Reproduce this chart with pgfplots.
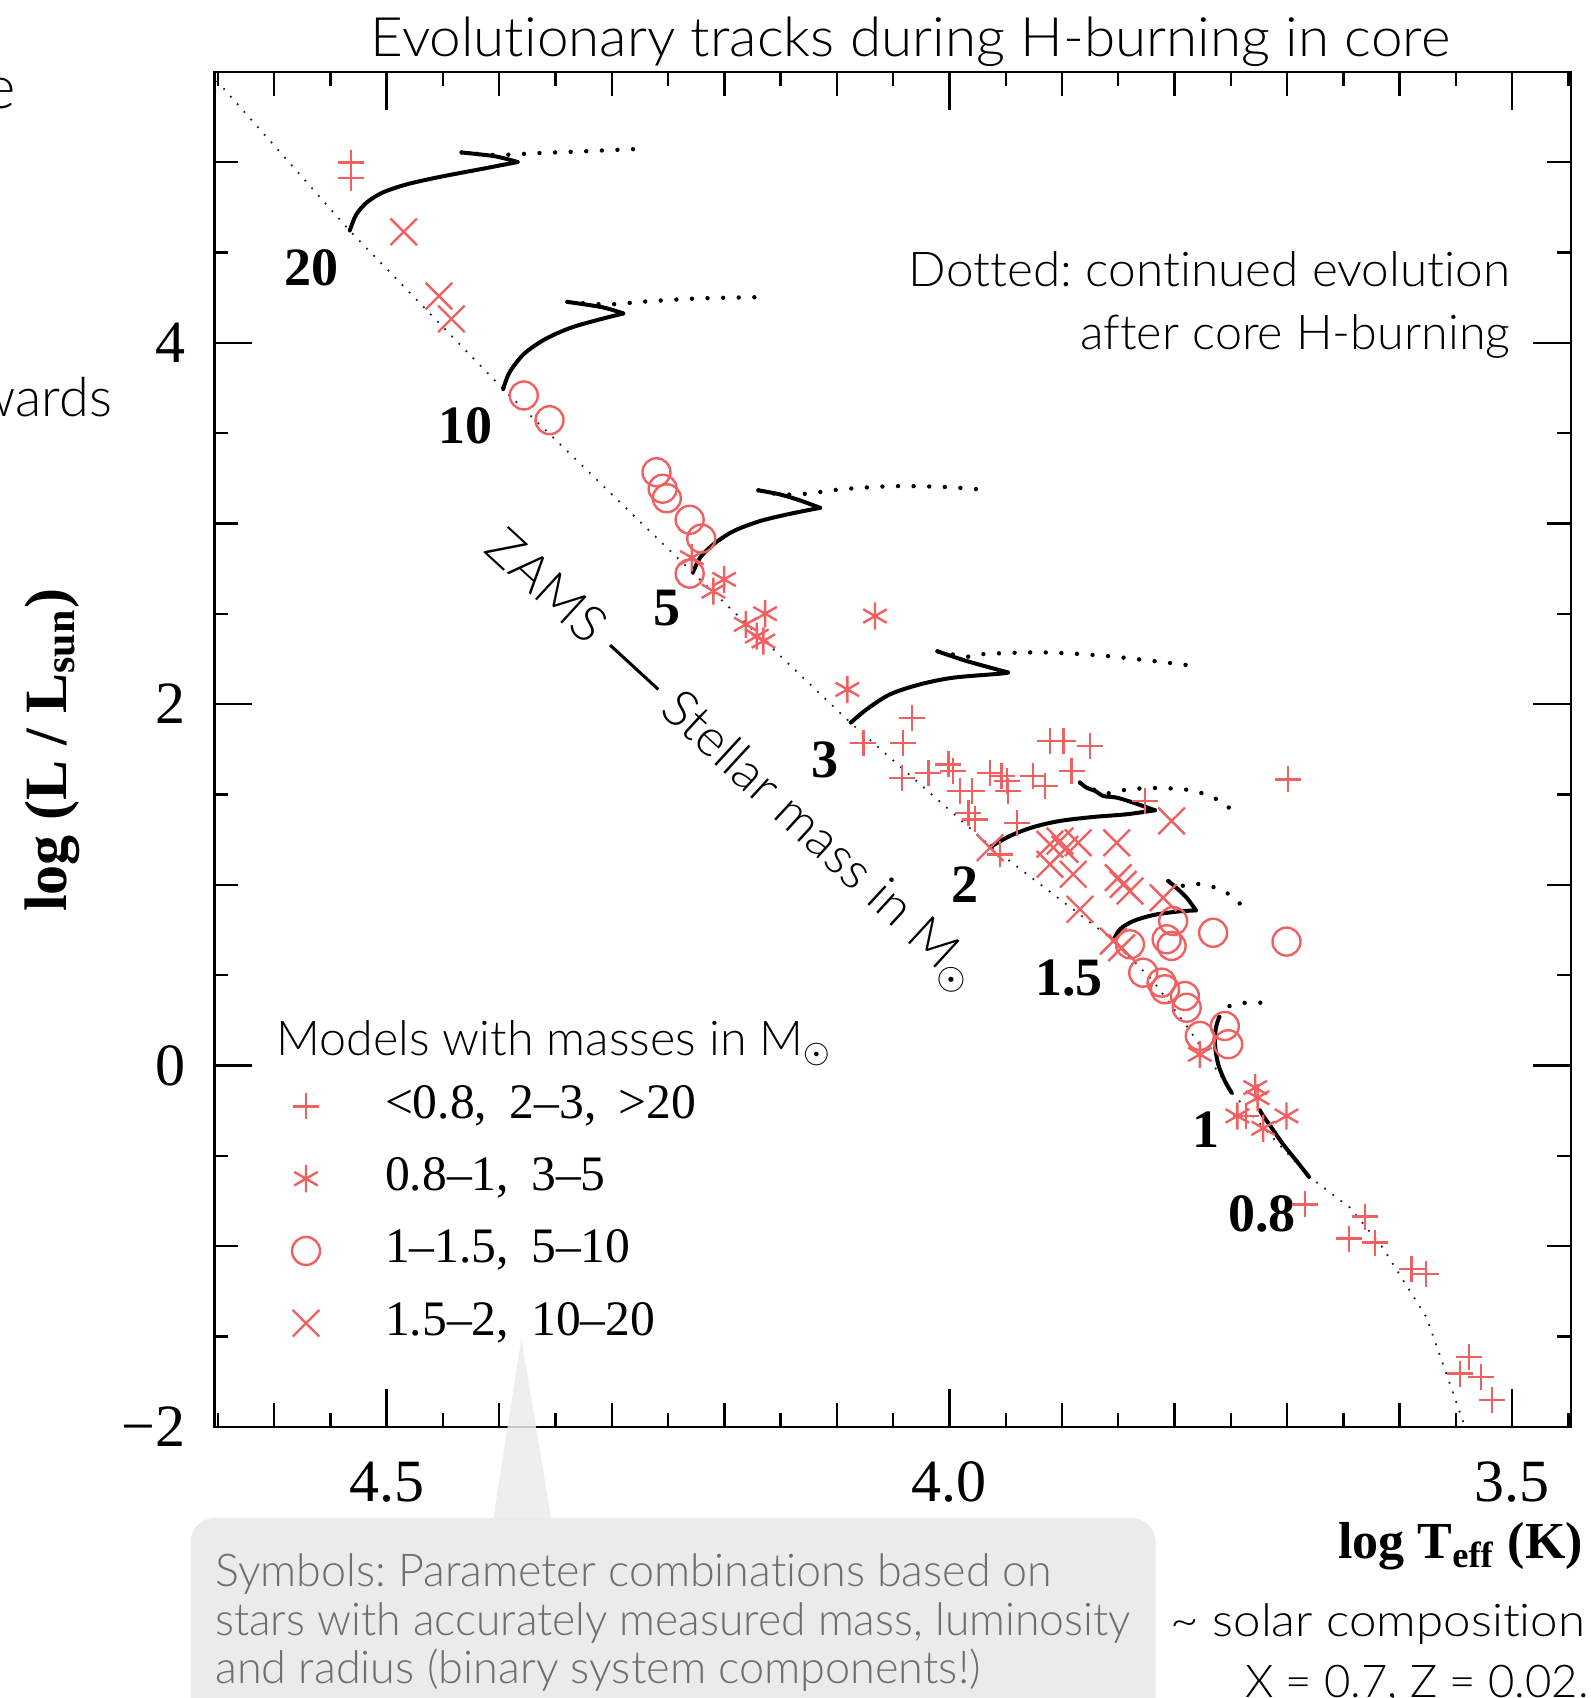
\documentclass[border=0pt]{standalone}
\usepackage{fontspec}
\setmainfont{Liberation Serif}
\IfFontExistsTF{Lato Light}{\newfontfamily\ann[Ligatures=NoCommon]{Lato Light}}{\newfontfamily\ann[Ligatures=NoCommon]{Lato}}
\usepackage{graphicx}
\usepackage{pgfplots}
\pgfplotsset{compat=1.18}
\frenchspacing

\definecolor{mk}{RGB}{240,96,96}
\definecolor{boxgray}{RGB}{235,235,235}
\definecolor{notegray}{RGB}{110,110,110}

% stretch a line of text horizontally to a given width, keeping its height
\newcommand{\fitw}[2]{\resizebox{#1}{\height}{#2}}
% long thin dash
\newcommand{\ldash}{\hspace{0.3em}\rule[0.3em]{1.25em}{0.06em}\hspace{0.3em}}

\tikzset{
  track/.style={black, line width=1.0pt, line cap=round, line join=round},
  after/.style={black, line width=1.1pt, line cap=round, dash pattern=on 0pt off 3.9pt},
  zams/.style={black!85, line width=0.45pt, dash pattern=on 0.45pt off 2.1pt},
  mass/.style={font=\bfseries\fontsize{13.5}{13.5}\selectfont, inner sep=0pt},
}

\begin{document}
\begin{tikzpicture}
\begin{axis}[
  at={(53.625pt,-356.675pt)}, anchor=south west,
  scale only axis, width=339.05pt, height=338.75pt,
  x dir=reverse, xmin=3.448, xmax=4.653, ymin=-2, ymax=5.5,
  axis line style={black, line width=0.6pt},
  every tick/.style={black, line width=0.6pt},
  tick align=inside,
  xtick={3.5,4.0,4.5}, xticklabels={3.5,4.0,4.5},
  minor xtick={3.6,3.7,3.8,3.9,4.1,4.2,4.3,4.4,4.6},
  extra x ticks={3.45,3.55,3.65,3.75,3.85,3.95,4.05,4.15,4.25,4.35,4.45,4.55,4.65},
  extra x tick labels={},
  extra x tick style={major tick length=3.5pt},
  ytick={-2,0,2,4}, yticklabels={−2,0,2,4},
  minor ytick={-1,1,3,5},
  extra y ticks={-1.5,-0.5,0.5,1.5,2.5,3.5,4.5,5.5},
  extra y tick labels={},
  extra y tick style={major tick length=3.5pt},
  major tick length=9.5pt, minor tick length=6pt,
  /pgf/number format/assume math mode=true,
  xticklabel style={font=\fontsize{15}{15}\selectfont, inner sep=0pt, anchor=north, yshift=-8.5pt},
  yticklabel style={font=\fontsize{15}{15}\selectfont, inner sep=0pt, anchor=east, xshift=-7.1pt},
  legend cell align=left,
  legend style={draw=none, fill=none, inner sep=0pt, outer sep=0pt,
    at={(0.0557,0.2541)}, anchor=north west,
    column sep=15.75pt, row sep=6.07pt,
    nodes={inner sep=0pt, text height=9pt, text depth=3pt},
    font=\fontsize{12.4}{14}\selectfont},
  legend image code/.code={\path[draw=none, fill=none] (-4pt,-4pt) rectangle (4pt,4pt);
    \draw[#1] plot coordinates {(0pt,0pt)};},
]

% zero-age main sequence
\addplot[zams, forget plot] coordinates {
 (4.651,5.45) (4.533,4.621) (4.3965,3.743) (4.228,2.727) (4.088,1.897)
 (3.963,1.210) (3.854,0.692) (3.819,0.467) (3.786,0.190) (3.749,-0.151)
 (3.715,-0.385) (3.680,-0.618) (3.644,-0.788) (3.615,-1.009) (3.576,-1.396)
 (3.542,-2.0)};

% 20 Msun
\addplot[track, smooth, forget plot] coordinates {(4.5328,4.621) (4.5273,4.706) (4.5180,4.775) (4.5033,4.832) (4.4813,4.878) (4.4518,4.919) (4.4187,4.958) (4.3837,5.000)};
\addplot[track, smooth, forget plot] coordinates {(4.3837,5.000) (4.4039,5.032) (4.4334,5.053)};
\addplot[after, smooth, forget plot] coordinates {(4.4334,5.053) (4.4028,5.039) (4.3634,5.050) (4.3192,5.061) (4.2750,5.073)};
% 10 Msun
\addplot[track, smooth, forget plot] coordinates {(4.3965,3.743) (4.3910,3.834) (4.3782,3.937) (4.3597,4.018) (4.3377,4.080) (4.3155,4.121) (4.2898,4.162)};
\addplot[track, smooth, forget plot] coordinates {(4.2898,4.162) (4.3082,4.196) (4.3394,4.226)};
\addplot[after, smooth, forget plot] coordinates {(4.3394,4.226) (4.3044,4.212) (4.2677,4.229) (4.2234,4.245) (4.1701,4.252)};
% 5 Msun
\addplot[track, smooth, forget plot] coordinates {(4.2280,2.727) (4.2215,2.810) (4.2097,2.884) (4.1919,2.957) (4.1682,3.013) (4.1416,3.053) (4.1149,3.086)};
\addplot[track, smooth, forget plot] coordinates {(4.1149,3.086) (4.1327,3.127) (4.1504,3.160) (4.1697,3.183)};
\addplot[after, smooth, forget plot] coordinates {(4.1697,3.183) (4.1500,3.160) (4.1253,3.165) (4.0972,3.188) (4.0498,3.206) (4.0024,3.201) (3.9655,3.184)};
% 3 Msun
\addplot[track, smooth, forget plot] coordinates {(4.0877,1.897) (4.0735,1.971) (4.0527,2.054) (4.0261,2.109) (3.9965,2.146) (3.9551,2.168) (3.9480,2.175)};
\addplot[track, smooth, forget plot] coordinates {(3.9480,2.175) (3.9847,2.238) (4.0106,2.292)};
\addplot[after, smooth, forget plot] coordinates {(4.0106,2.292) (3.9850,2.262) (3.9742,2.275) (3.9187,2.286) (3.8582,2.265) (3.7825,2.211)};
% 2 Msun
\addplot[track, smooth, forget plot] coordinates {(3.9633,1.210) (3.9462,1.270) (3.9255,1.319) (3.9018,1.353) (3.8722,1.375) (3.8425,1.390) (3.8174,1.412)};
\addplot[track, smooth, forget plot] coordinates {(3.8174,1.412) (3.8366,1.454) (3.8514,1.482) (3.8632,1.491) (3.8706,1.519) (3.8781,1.537) (3.8840,1.565)};
\addplot[after, smooth, forget plot] coordinates {(3.8840,1.565) (3.8632,1.505) (3.8514,1.519) (3.8278,1.534) (3.8070,1.534) (3.7892,1.526) (3.7745,1.504) (3.7597,1.463) (3.7434,1.386)};
% 1.5 Msun
\addplot[track, smooth, forget plot] coordinates {(3.8544,0.692) (3.8485,0.753) (3.8366,0.799) (3.8189,0.832) (3.7981,0.851) (3.7810,0.858)};
\addplot[track, smooth, forget plot] coordinates {(3.7810,0.858) (3.7848,0.892) (3.7892,0.928) (3.7952,0.965) (3.8012,0.998) (3.8055,1.020)};
\addplot[after, smooth, forget plot] coordinates {(3.8055,1.020) (3.7952,0.993) (3.7834,1.006) (3.7686,0.993) (3.7538,0.956) (3.7419,0.895)};
% 1 Msun
\addplot[track, smooth, forget plot] coordinates {(3.7493,-0.151) (3.7553,-0.086) (3.7612,0.006) (3.7641,0.117) (3.7632,0.209) (3.7603,0.268)};
\addplot[after, smooth, forget plot] coordinates {(3.7603,0.268) (3.7553,0.316) (3.7419,0.344) (3.7227,0.347)};
% 0.8 Msun
\addplot[track, smooth, forget plot] coordinates {(3.6804,-0.618) (3.6916,-0.529) (3.7035,-0.437) (3.7138,-0.345) (3.7212,-0.280) (3.7242,-0.248)};

% binary components
\addplot[only marks, mk, mark=+, mark size=3.25pt, mark options={line width=0.6pt}] coordinates {
 (4.5317,4.997) (4.5317,4.913)
 (4.0765,1.786) (4.0415,1.786) (4.0335,1.924) (4.0424,1.592) (4.0187,1.620)
 (4.0010,1.666) (3.9970,1.630) (3.9906,1.519) (3.9802,1.519) (3.9832,1.398)
 (3.9773,1.362) (3.9639,1.620) (3.9536,1.602) (3.9491,1.574) (3.9477,1.519)
 (3.9255,1.602) (3.9151,1.547) (3.9107,1.795) (3.8988,1.795) (3.8752,1.768)
 (3.8914,1.629) (3.6990,1.583) (3.9402,1.343) (3.9551,1.168) (3.8263,1.463)
 (3.7367,-0.280)
 (3.6843,-0.769) (3.6309,-0.837) (3.6448,-0.959) (3.6217,-0.981) (3.5894,-1.128)
 (3.5767,-1.156) (3.5383,-1.614) (3.5465,-1.706) (3.5279,-1.724) (3.5179,-1.853)};
\addlegendentry{<0.8,\hspace{0.45em}2–3,\hspace{0.45em}>20}
\addplot[only marks, mk, mark=asterisk, mark size=3.4pt, mark options={line width=0.6pt}] coordinates {
 (4.2289,2.810) (4.2002,2.690) (4.2097,2.625) (4.1809,2.441) (4.1638,2.500)
 (4.1711,2.376) (4.1653,2.349) (4.0661,2.487) (4.0907,2.081)
 (3.7775,0.061) (3.7283,-0.123) (3.7262,-0.179) (3.7442,-0.280) (3.7212,-0.348)
 (3.7005,-0.280)};
\addlegendentry{0.8–1,\hspace{0.45em}3–5}
\addplot[only marks, mk, mark=o, mark size=3.5pt, mark options={line width=0.6pt}] coordinates {
 (4.3782,3.708) (4.3553,3.571) (4.2603,3.283) (4.2548,3.192) (4.2511,3.139)
 (4.2308,3.020) (4.2205,2.916) (4.2308,2.722)
 (3.8396,0.670) (3.8012,0.799) (3.7657,0.734) (3.7005,0.685) (3.8070,0.698)
 (3.8026,0.661) (3.8278,0.513) (3.8115,0.458) (3.8085,0.421) (3.7908,0.384)
 (3.7892,0.319) (3.7775,0.163) (3.7553,0.218) (3.7523,0.117)};
\addlegendentry{1–1.5,\hspace{0.45em}5–10}
\addplot[only marks, mk, mark=x, mark size=4.7pt, mark options={line width=0.6pt}] coordinates {
 (4.4849,4.614) (4.4536,4.258) (4.4425,4.132)
 (3.9639,1.205) (3.9107,1.224) (3.9018,1.242) (3.8974,1.196) (3.8856,1.232)
 (3.8514,1.232) (3.8026,1.353) (3.9107,1.113) (3.8900,1.058) (3.8500,1.039)
 (3.8456,1.002) (3.8396,0.965) (3.8840,0.864) (3.8101,0.928) (3.8544,0.688)
 (3.8470,0.651)};
\addlegendentry{1.5–2,\hspace{0.45em}10–20}

% track masses
\node[mass] at (axis cs:4.5668,4.413) {20};
\node[mass] at (axis cs:4.4297,3.538) {10};
\node[mass] at (axis cs:4.2511,2.530) {5};
\node[mass] at (axis cs:4.1102,1.690) {3};
\node[mass] at (axis cs:3.9861,1.002) {2};
\node[mass] at (axis cs:3.8938,0.482) {1.5};
\node[mass] at (axis cs:3.7724,-0.357) {1};
\node[mass] at (axis cs:3.7224,-0.824) {0.8};
\end{axis}

% titles and annotations
\node[anchor=base, inner sep=0pt, font=\ann\fontsize{13.6}{13.6}\selectfont]
  at (227.6pt,-14.15pt) {\fitw{269.75pt}{Evolutionary tracks during H-burning in core}};
\node[anchor=base east, inner sep=0pt, font=\ann\fontsize{12}{12}\selectfont]
  at (377.75pt,-71.75pt) {\fitw{150.3pt}{Dotted: continued evolution}};
\node[anchor=base east, inner sep=0pt, font=\ann\fontsize{12}{12}\selectfont]
  at (377.75pt,-87.5pt) {\fitw{107.4pt}{after core H-burning}};
\node[anchor=base west, inner sep=0pt, font=\ann\fontsize{12}{12}\selectfont]
  at (68.9pt,-263.9pt) {\fitw{139pt}{Models with masses in M\textsubscript{$\odot$}}};
\node[rotate=-42.6, inner sep=0pt, font=\ann\fontsize{12.8}{12.8}\selectfont]
  at (183pt,-190.5pt) {\fitw{163pt}{ZAMS\ldash Stellar mass in M\textsubscript{$\odot$}}};

% axis labels
\node[rotate=90, inner sep=0pt, font=\bfseries\fontsize{15}{15}\selectfont]
  at (13pt,-187.5pt) {log (L / L\textsubscript{sun})};
\node[anchor=base east, inner sep=0pt, font=\bfseries\fontsize{13}{13}\selectfont]
  at (395.9pt,-389.7pt) {log T\textsubscript{eff} (K)};

% callout
\fill[boxgray, rounded corners=6pt] (47.65pt,-379.5pt) rectangle (288.9pt,-445pt);
\fill[boxgray, opacity=0.85] (130.35pt,-334.6pt) -- (123.1pt,-381pt) -- (138pt,-381pt) -- cycle;
\begin{scope}[every node/.style={anchor=base west, inner sep=0pt, text=notegray, font=\ann\fontsize{11.3}{11.3}\selectfont}]
\node at (53.6pt,-396.7pt) {\fitw{209.3pt}{Symbols: Parameter combinations based on}};
\node at (53.6pt,-408.95pt) {\fitw{228.8pt}{stars with accurately measured mass, luminosity}};
\node at (53.6pt,-420.85pt) {\fitw{191.4pt}{and radius (binary system components!)}};
\end{scope}

% composition note
\node[anchor=base east, inner sep=0pt, font=\ann\fontsize{11.3}{11.3}\selectfont]
  at (396.5pt,-409.2pt) {\fitw{103.6pt}{\textasciitilde\ solar composition}};
\node[anchor=base east, inner sep=0pt, font=\ann\fontsize{11.3}{11.3}\selectfont]
  at (397.4pt,-424.25pt) {\fitw{85.9pt}{X = 0.7, Z = 0.02.}};

% neighbouring text on the page
\node[anchor=base east, inner sep=0pt, font=\ann\fontsize{15}{15}\selectfont]
  at (4.25pt,-27.25pt) {e};
\node[anchor=base east, inner sep=0pt, font=\ann\fontsize{13.5}{13.5}\selectfont]
  at (28.25pt,-104.25pt) {towards};

\pgfresetboundingbox
\path[use as bounding box] (0pt,0pt) rectangle (397.75pt,-424.5pt);
\end{tikzpicture}
\end{document}
